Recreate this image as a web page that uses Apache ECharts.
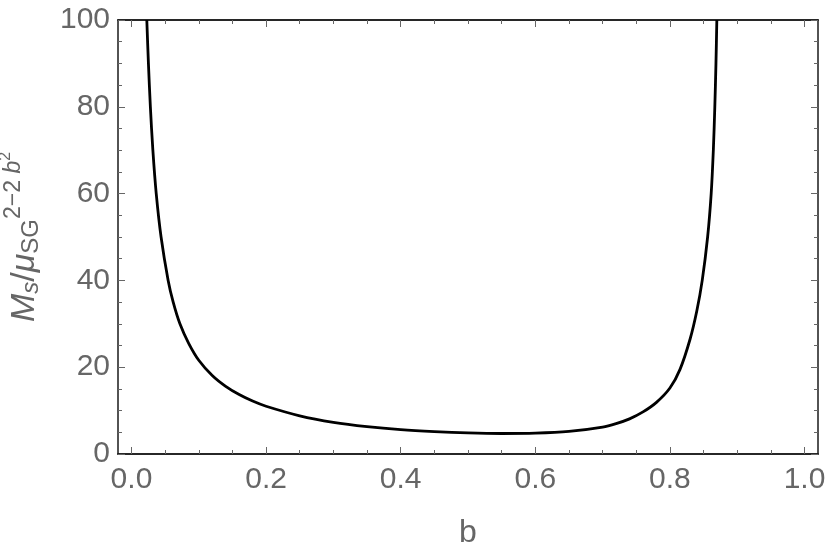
<!DOCTYPE html>
<html>
<head>
<meta charset="utf-8">
<script src="https://cdn.jsdelivr.net/npm/echarts@6/dist/echarts.min.js"></script>
<style>
  html, body { margin: 0; padding: 0; background: #fff; }
  #main { width: 830px; height: 556px; }
</style>
</head>
<body>
<div id="main"></div>
<script>
// values
var bValues = [0.0228, 0.0252, 0.0281, 0.0318, 0.0368, 0.044, 0.0545, 0.062, 0.072, 0.085,
  0.10, 0.12, 0.14, 0.16, 0.18, 0.20, 0.25, 0.30, 0.35, 0.40,
  0.45, 0.50, 0.55, 0.60, 0.65, 0.70, 0.72, 0.74, 0.76, 0.78,
  0.80, 0.815, 0.83, 0.84, 0.848, 0.856, 0.8613, 0.8645, 0.8667, 0.8684,
  0.8697];
var msValues = [100, 90, 80, 70, 60, 50, 40, 35, 30, 25.5,
  21.6, 18.1, 15.6, 13.7, 12.2, 11.0, 8.8, 7.3, 6.3, 5.6,
  5.15, 4.85, 4.72, 4.8, 5.2, 6.2, 7.0, 8.1, 9.7, 11.9,
  15.2, 19.5, 26.5, 33.0, 40, 50, 60, 70, 80, 90,
  100];

var xMajorTicks = [0, 0.2, 0.4, 0.6, 0.8, 1.0];
var xMinorTicks = [0.05, 0.1, 0.15, 0.25, 0.3, 0.35, 0.45, 0.5, 0.55, 0.65, 0.7, 0.75, 0.85, 0.9, 0.95];

var curve = bValues.map(function (b, i) { return [b, msValues[i]]; });

var frameColor = '#1a1a1a';
var tickColor = '#666';
var labelColor = '#666';
var font = 'Liberation Sans';

// one x axis per side and per tick size (Mathematica style frame)
var xAxisBase = function (pos, ticks, len, withLabels) {
  return {
    type: 'value',
    position: pos,
    min: -0.02,
    max: 1.02,
    splitLine: { show: false },
    axisLine: { show: true, onZero: false, lineStyle: { color: frameColor, width: 1.5 } },
    axisTick: { show: true, inside: true, length: len, customValues: ticks, lineStyle: { color: tickColor, width: 1 } },
    axisLabel: withLabels ? {
      show: true, margin: 11, customValues: xMajorTicks, color: labelColor,
      fontSize: 30, fontFamily: font,
      formatter: function (v) { return v.toFixed(1); }
    } : { show: false }
  };
};

var yAxisBase = function (pos, withLabels) {
  return {
    type: 'value',
    position: pos,
    min: 0,
    max: 100,
    interval: 20,
    splitLine: { show: false },
    axisLine: { show: true, onZero: false, lineStyle: { color: frameColor, width: 1.5 } },
    axisTick: { show: true, inside: true, length: 7, lineStyle: { color: tickColor, width: 1 } },
    minorTick: { show: true, splitNumber: 4, length: 4, lineStyle: { color: tickColor, width: 1 } },
    minorSplitLine: { show: false },
    axisLabel: withLabels ? {
      show: true, margin: 8, color: labelColor, fontSize: 30, fontFamily: font
    } : { show: false }
  };
};

var xBottom = xAxisBase('bottom', xMajorTicks, 7, true);
xBottom.name = 'b';
xBottom.nameLocation = 'middle';
xBottom.nameGap = 63;
xBottom.nameTextStyle = { color: labelColor, fontSize: 32, fontFamily: font };

var yLeft = yAxisBase('left', true);
yLeft.name = '{m|M}{subi|s}{n|/}{m|μ}{sub|SG}{sup|2−2 }{supi|b}{ss|2}';
yLeft.nameLocation = 'middle';
yLeft.nameRotate = 90;
yLeft.nameGap = 54;
yLeft.nameTextStyle = {
  color: labelColor,
  fontFamily: font,
  rich: {
    m: { fontSize: 34, fontStyle: 'italic', fontFamily: font, color: labelColor, height: 52, verticalAlign: 'top' },
    n: { fontSize: 34, fontFamily: font, color: labelColor, height: 52, verticalAlign: 'top' },
    subi: { fontSize: 24, fontStyle: 'italic', fontFamily: font, color: labelColor, height: 65, verticalAlign: 'top' },
    sub: { fontSize: 24, fontFamily: font, color: labelColor, height: 65, verticalAlign: 'top' },
    sup: { fontSize: 23, fontFamily: font, color: labelColor, height: 29, verticalAlign: 'top' },
    supi: { fontSize: 23, fontStyle: 'italic', fontFamily: font, color: labelColor, height: 29, verticalAlign: 'top' },
    ss: { fontSize: 16, fontFamily: font, color: labelColor, height: 14, verticalAlign: 'top' }
  }
};

var chart = echarts.init(document.getElementById('main'));
chart.setOption({
  animation: false,
  backgroundColor: '#fff',
  grid: { left: 118, right: 12, top: 20, bottom: 102, containLabel: false, outerBoundsMode: 'none' },
  xAxis: [
    xBottom,
    xAxisBase('bottom', xMinorTicks, 4, false),
    xAxisBase('top', xMajorTicks, 7, false),
    xAxisBase('top', xMinorTicks, 4, false)
  ],
  yAxis: [
    yLeft,
    yAxisBase('right', false)
  ],
  series: [{
    type: 'line',
    xAxisIndex: 0,
    yAxisIndex: 0,
    data: curve,
    showSymbol: false,
    smooth: 0.3,
    clip: true,
    lineStyle: { color: '#000', width: 2.8 }
  }]
});
</script>
</body>
</html>
